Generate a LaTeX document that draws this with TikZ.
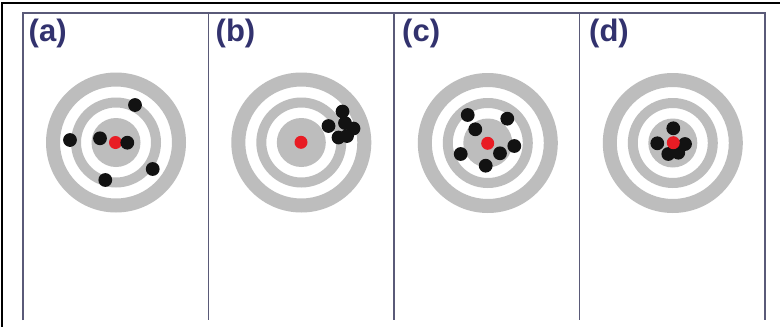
\documentclass[tikz,border=0pt]{standalone}
\usepackage{fontspec}
\setmainfont{Liberation Sans}
\definecolor{ringgray}{RGB}{189,189,189}
\definecolor{framec}{RGB}{90,90,120}
\definecolor{labc}{RGB}{50,50,110}
\definecolor{hitred}{RGB}{232,28,36}
\definecolor{shot}{RGB}{18,18,18}
\begin{document}
\begin{tikzpicture}[x=1pt,y=-1pt,
  target/.pic={
    \fill[ringgray, even odd rule] (0,0) circle (70pt) (0,0) circle (56pt);
    \fill[ringgray, even odd rule] (0,0) circle (45pt) (0,0) circle (35pt);
    \fill[ringgray] (0,0) circle (24.5pt);
  },
  hole/.style={fill=shot},
  bull/.style={fill=hitred},
  lab/.style={anchor=base west, font=\bfseries\fontsize{31}{31}\selectfont, text=labc, inner sep=0pt},
  panelline/.style={draw=framec, line width=1.6pt},
]
\useasboundingbox (0,0) rectangle (780,327);
\fill[white] (0,0) rectangle (780,327);
% outer frame (left and top)
\draw[line width=1.6pt] (2,327) -- (2,3) -- (780,3);
% panel frame
\draw[panelline] (22.7,320) -- (22.7,13) -- (765,13) -- (765,320);
\draw[panelline] (208.3,13) -- (208.3,320);
\draw[panelline] (393.9,13) -- (393.9,320);
\draw[panelline] (579.5,13) -- (579.5,320);
% labels
\node[lab] (la) at (28.5,41.5) {(a)};
\node[lab] (lb) at (215.5,41.5) {(b)};
\node[lab] (lc) at (402,41.5) {(c)};
\node[lab] (ld) at (589,41.5) {(d)};
% (a)
\pic at (116,142.5) {target};
\fill[bull] (115.5,142.5) circle (6.5pt);
\foreach \p in {(135,105),(70,140),(100,138.3),(127.3,142.7),(152.7,169),(105.3,180)}
  \fill[hole] \p circle (6.9pt);
% (b)
\pic at (301.3,142.5) {target};
\fill[bull] (301,142.3) circle (6.5pt);
\foreach \p in {(342.5,111.5),(345,123),(328.5,126),(353.5,128.5),(347,136),(338.5,137.5)}
  \fill[hole] \p circle (6.9pt);
% (c)
\pic at (487.8,143) {target};
\fill[bull] (487.7,143.3) circle (6.5pt);
\foreach \p in {(467.7,115),(507.3,118.7),(475.3,129.3),(514.3,146),(500,153.3),(460.7,154),(485.7,165.7)}
  \fill[hole] \p circle (6.9pt);
% (d)
\pic at (672.8,143) {target};
\foreach \p in {(673.3,128.3),(657.3,143.3),(685,144),(668.3,154),(678.3,152.7)}
  \fill[hole] \p circle (6.9pt);
\fill[bull] (673.3,142.7) circle (6.5pt);
\end{tikzpicture}
\end{document}
